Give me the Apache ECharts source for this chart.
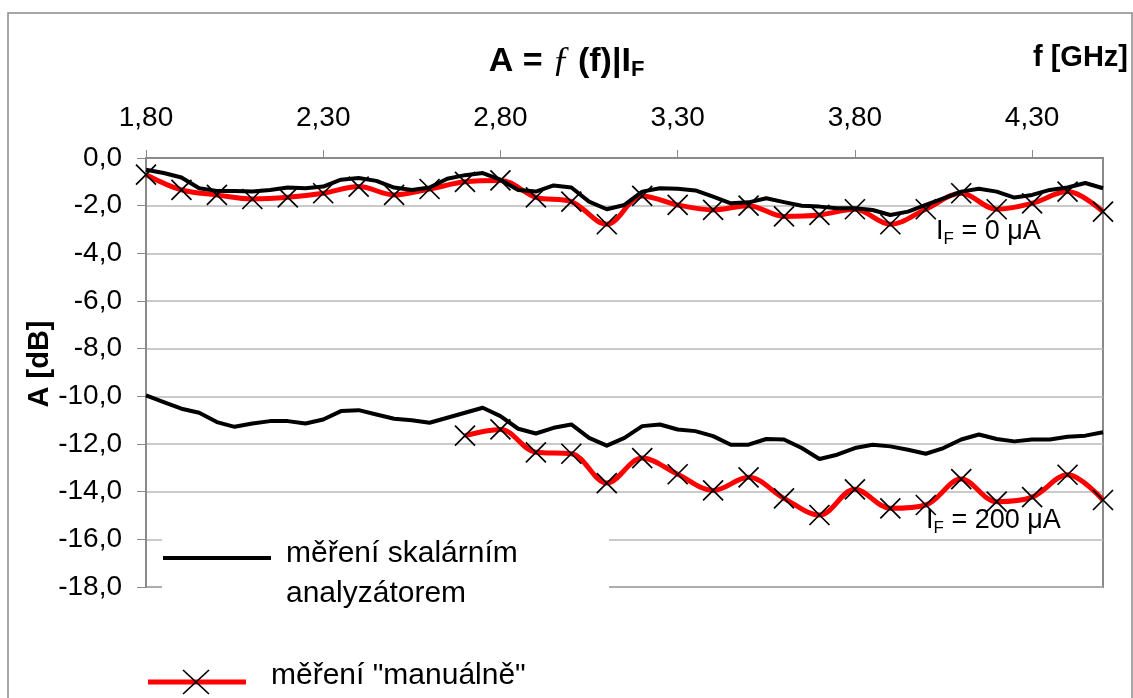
<!DOCTYPE html>
<html>
<head>
<meta charset="utf-8">
<script src="https://cdn.jsdelivr.net/npm/echarts@6/dist/echarts.min.js"></script>
<style>
html,body{margin:0;padding:0;background:#fff;}
#chart{width:1133px;height:698px;}
</style>
</head>
<body>
<div id="chart"></div>
<script>
// ---- data ----
const freqScalar = [1.80,1.85,1.90,1.95,2.00,2.05,2.10,2.15,2.20,2.25,2.30,2.35,2.40,2.45,2.50,2.55,2.60,2.65,2.70,2.75,2.80,2.85,2.90,2.95,3.00,3.05,3.10,3.15,3.20,3.25,3.30,3.35,3.40,3.45,3.50,3.55,3.60,3.65,3.70,3.75,3.80,3.85,3.90,3.95,4.00,4.05,4.10,4.15,4.20,4.25,4.30,4.35,4.40,4.45,4.50];
const scalar0uA = [-0.49,-0.63,-0.82,-1.27,-1.38,-1.38,-1.41,-1.34,-1.24,-1.27,-1.20,-0.91,-0.84,-0.96,-1.24,-1.34,-1.24,-0.87,-0.72,-0.63,-0.91,-1.34,-1.41,-1.15,-1.24,-1.83,-2.15,-1.97,-1.41,-1.27,-1.29,-1.36,-1.62,-1.90,-1.86,-1.69,-1.85,-2.00,-2.04,-2.11,-2.11,-2.18,-2.39,-2.25,-1.97,-1.69,-1.41,-1.29,-1.41,-1.66,-1.55,-1.34,-1.24,-1.05,-1.27];
const scalar200uA = [-9.96,-10.24,-10.52,-10.69,-11.08,-11.28,-11.14,-11.04,-11.04,-11.14,-10.97,-10.62,-10.58,-10.76,-10.94,-11.00,-11.11,-10.90,-10.69,-10.48,-10.83,-11.36,-11.56,-11.32,-11.18,-11.74,-12.07,-11.74,-11.25,-11.18,-11.39,-11.46,-11.67,-12.03,-12.03,-11.79,-11.81,-12.17,-12.63,-12.45,-12.17,-12.03,-12.10,-12.24,-12.41,-12.17,-11.81,-11.60,-11.79,-11.89,-11.81,-11.81,-11.70,-11.65,-11.51];

const freqManual0 = [1.8,1.9,2.0,2.1,2.2,2.3,2.4,2.5,2.6,2.7,2.8,2.9,3.0,3.1,3.2,3.3,3.4,3.5,3.6,3.7,3.8,3.9,4.0,4.1,4.2,4.3,4.4,4.5];
const manual0uA = [-0.70,-1.34,-1.55,-1.72,-1.65,-1.48,-1.20,-1.55,-1.30,-1.00,-0.94,-1.65,-1.83,-2.78,-1.59,-1.97,-2.18,-2.00,-2.45,-2.39,-2.15,-2.78,-2.15,-1.48,-2.15,-1.90,-1.41,-2.25];

const freqManual200 = [2.7,2.8,2.9,3.0,3.1,3.2,3.3,3.4,3.5,3.6,3.7,3.8,3.9,4.0,4.1,4.2,4.3,4.4,4.5];
const manual200uA = [-11.65,-11.39,-12.35,-12.41,-13.64,-12.59,-13.27,-13.95,-13.40,-14.28,-14.98,-13.90,-14.70,-14.56,-13.47,-14.42,-14.23,-13.29,-14.35];

const xTicks = {min: 1.8, max: 4.5, interval: 0.5};
const yTicks = {min: -18, max: 0, interval: 2};

// ---- helpers ----
const zip = (xs, ys) => xs.map((x, i) => [x, ys[i]]);
const FONT = '"Liberation Sans", Arial, sans-serif';
const crossPath = 'path://M0,0L10,10M10,0L0,10';

const chart = echarts.init(document.getElementById('chart'), null, {renderer: 'canvas'});

const redSeries = (name, data) => ({
  name: name, type: 'line', data: data, z: 2,
  smooth: 0.35,
  symbol: crossPath, symbolSize: 20, showSymbol: true, symbolKeepAspect: true,
  lineStyle: {color: '#ff0000', width: 5},
  itemStyle: {color: 'transparent', borderColor: '#000000', borderWidth: 1.7},
  emphasis: {disabled: true},
  animation: false
});
const blackSeries = (name, data) => ({
  name: name, type: 'line', data: data, z: 3,
  showSymbol: false, symbol: 'none',
  lineStyle: {color: '#000000', width: 4, join: 'round'},
  emphasis: {disabled: true},
  animation: false
});

const option = {
  backgroundColor: '#ffffff',
  animation: false,
  title: {
    left: 'center', top: 38,
    text: '{b|A = }{i|ƒ}{b|(f)|I}{s|F}',
    textStyle: {
      rich: {
        b: {fontFamily: FONT, fontWeight: 'bold', fontSize: 34, color: '#000'},
        i: {fontFamily: '"Liberation Serif", serif', fontStyle: 'italic', fontWeight: 'normal', fontSize: 36, color: '#000', padding: [0, 8, 0, 0]},
        s: {fontFamily: FONT, fontWeight: 'bold', fontSize: 22, color: '#000', padding: [16, 0, 0, 0]}
      }
    }
  },
  grid: {
    left: 146, top: 158, right: 30, bottom: 111,
    show: true, borderColor: '#8a8a8a', borderWidth: 2, backgroundColor: '#fff'
  },
  xAxis: {
    type: 'value', position: 'top',
    min: xTicks.min, max: xTicks.max, interval: xTicks.interval,
    axisLine: {show: true, onZero: false, lineStyle: {color: '#8a8a8a', width: 2}},
    axisTick: {show: true, inside: false, length: 8, lineStyle: {color: '#8a8a8a', width: 1}},
    splitLine: {show: false},
    axisLabel: {
      margin: 26, showMaxLabel: false, color: '#000', fontFamily: FONT, fontSize: 28,
      formatter: v => v.toFixed(2).replace('.', ',')
    }
  },
  yAxis: {
    type: 'value',
    min: yTicks.min, max: yTicks.max, interval: yTicks.interval,
    axisLine: {show: true, onZero: false, lineStyle: {color: '#8a8a8a', width: 2}},
    axisTick: {show: true, inside: false, length: 9, lineStyle: {color: '#8a8a8a', width: 1}},
    splitLine: {show: true, lineStyle: {color: '#b8b8b8', width: 1.5}},
    axisLabel: {
      margin: 24, color: '#000', fontFamily: FONT, fontSize: 28,
      formatter: v => v.toFixed(1).replace('.', ',')
    }
  },
  series: [
    redSeries('měření "manuálně"', zip(freqManual0, manual0uA)),
    redSeries('měření "manuálně"', zip(freqManual200, manual200uA)),
    blackSeries('měření skalárním analyzátorem', zip(freqScalar, scalar0uA)),
    blackSeries('měření skalárním analyzátorem', zip(freqScalar, scalar200uA))
  ],
  graphic: [
    // outer chart border
    {type: 'rect', z: 50, silent: true, shape: {x: 8, y: 13, width: 1124, height: 720},
     style: {fill: 'none', stroke: '#8a8a8a', lineWidth: 1.5}},
    // y axis name
    {type: 'text', z: 60, x: 40, y: 364, rotation: Math.PI / 2, silent: true,
     style: {text: 'A [dB]', fill: '#000', font: 'bold 29px ' + FONT, align: 'center', verticalAlign: 'middle'}},
    // axis unit at top right
    {type: 'text', z: 60, x: 1128, y: 58, silent: true,
     style: {text: 'f [GHz]', fill: '#000', font: 'bold 29px ' + FONT, align: 'right', verticalAlign: 'middle'}},
    // curve annotations
    {type: 'text', z: 60, x: 936, y: 232, silent: true,
     style: {text: '{a|I}{s|F}{a| = 0 μA}', align: 'left', verticalAlign: 'middle',
       rich: {a: {fontFamily: FONT, fontSize: 27, fill: '#000', color: '#000'},
              s: {fontFamily: FONT, fontSize: 17, fill: '#000', color: '#000', padding: [14, 0, 0, 0]}}}},
    {type: 'text', z: 60, x: 926, y: 521, silent: true,
     style: {text: '{a|I}{s|F}{a| = 200 μA}', align: 'left', verticalAlign: 'middle',
       rich: {a: {fontFamily: FONT, fontSize: 27, fill: '#000', color: '#000'},
              s: {fontFamily: FONT, fontSize: 17, fill: '#000', color: '#000', padding: [14, 0, 0, 0]}}}},
    // legend box
    {type: 'rect', z: 100, silent: true, shape: {x: 162, y: 525, width: 447, height: 200},
     style: {fill: '#ffffff', stroke: 'none'}},
    {type: 'line', z: 101, silent: true, shape: {x1: 163, y1: 558, x2: 271, y2: 558},
     style: {stroke: '#000', lineWidth: 4}},
    {type: 'text', z: 101, x: 286, y: 554, silent: true,
     style: {text: 'měření skalárním', fill: '#000', font: '30px ' + FONT, verticalAlign: 'middle'}},
    {type: 'text', z: 101, x: 286, y: 594, silent: true,
     style: {text: 'analyzátorem', fill: '#000', font: '30px ' + FONT, verticalAlign: 'middle'}},
    {type: 'line', z: 101, silent: true, shape: {x1: 148, y1: 682, x2: 246, y2: 682},
     style: {stroke: '#ff0000', lineWidth: 5}},
    {type: 'line', z: 102, silent: true, shape: {x1: 183, y1: 670, x2: 209, y2: 694},
     style: {stroke: '#000', lineWidth: 1.7}},
    {type: 'line', z: 102, silent: true, shape: {x1: 209, y1: 670, x2: 183, y2: 694},
     style: {stroke: '#000', lineWidth: 1.7}},
    {type: 'text', z: 101, x: 271, y: 676, silent: true,
     style: {text: 'měření "manuálně"', fill: '#000', font: '30px ' + FONT, verticalAlign: 'middle'}}
  ]
};
chart.setOption(option);
</script>
</body>
</html>
